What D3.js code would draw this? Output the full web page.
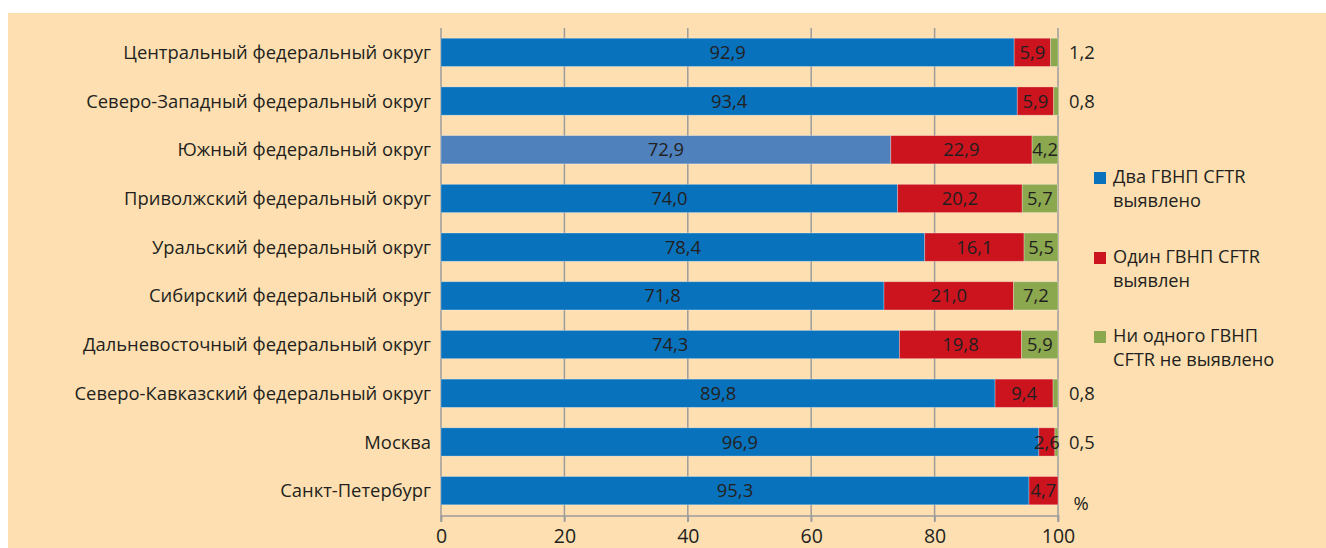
<!DOCTYPE html>
<html>
<head>
<meta charset="utf-8">
<script src="https://cdn.jsdelivr.net/npm/d3@7"></script>
<style>
  body { margin: 0; padding: 0; background: #fff; }
  svg { display: block; }
  text { font-family: "Open Sans", "Noto Sans", sans-serif; fill: #231F20; }
</style>
</head>
<body>
<svg id="chart" width="1326" height="548"></svg>
<script>
const categories = [
  "Центральный федеральный округ",
  "Северо-Западный федеральный округ",
  "Южный федеральный округ",
  "Приволжский федеральный округ",
  "Уральский федеральный округ",
  "Сибирский федеральный округ",
  "Дальневосточный федеральный округ",
  "Северо-Кавказский федеральный округ",
  "Москва",
  "Санкт-Петербург"
];
const twoFound  = [92.9, 93.4, 72.9, 74.0, 78.4, 71.8, 74.3, 89.8, 96.9, 95.3];
const oneFound  = [5.9, 5.9, 22.9, 20.2, 16.1, 21.0, 19.8, 9.4, 2.6, 4.7];
const noneFound = [1.2, 0.8, 4.2, 5.7, 5.5, 7.2, 5.9, 0.8, 0.5, 0.0];
const seriesNames = ["Два ГВНП CFTR выявлено", "Один ГВНП CFTR выявлен", "Ни одного ГВНП CFTR не выявлено"];
const legendLines = [["Два ГВНП CFTR", "выявлено"], ["Один ГВНП CFTR", "выявлен"], ["Ни одного ГВНП", "CFTR не выявлено"]];
const xTicks = [0, 20, 40, 60, 80, 100];
const unitLabel = "%";

const colors = ["#0872BC", "#CC141F", "#8CA84F"];
const highlightColor = "#4F81BD"; // Южный ФО bar is lighter
const gridColor = "#9C9C9C";
const fsCat = 18.4, fsVal = 18.4, fsTick = 19.5, fsLeg = 18.2;

const svg = d3.select("#chart");
svg.append("rect").attr("x", 8).attr("y", 13).attr("width", 1318).attr("height", 535).attr("fill", "#FDDFB1");

const x = d3.scaleLinear().domain([0, 100]).range([441, 1058]);
const y = d3.scaleBand().domain(categories).range([28, 515]).paddingInner(0.42).paddingOuter(0.21);

const keys = ["two", "one", "none"];
const rows = categories.map((c, i) => ({cat: c, two: twoFound[i], one: oneFound[i], none: noneFound[i]}));
const stacked = d3.stack().keys(keys)(rows);

// gridlines
svg.append("g").selectAll("line").data(xTicks.filter(t => t > 0)).join("line")
  .attr("x1", d => x(d)).attr("x2", d => x(d))
  .attr("y1", 28).attr("y2", 522)
  .attr("stroke", gridColor).attr("stroke-width", 1.5);
// left axis line
svg.append("line").attr("x1", x(0)).attr("x2", x(0)).attr("y1", 28).attr("y2", 522)
  .attr("stroke", gridColor).attr("stroke-width", 1.5);

// bottom axis
const axisG = svg.append("g").attr("transform", "translate(0,515.5)")
  .call(d3.axisBottom(x).tickValues(xTicks).tickSize(6).tickPadding(8).tickFormat(d3.format("d")));
axisG.select(".domain").attr("stroke", gridColor).attr("stroke-width", 1.5);
axisG.selectAll(".tick line").attr("stroke", gridColor).attr("stroke-width", 1.5);
axisG.selectAll(".tick text").attr("font-size", fsTick).attr("font-family", "'Open Sans', sans-serif").attr("fill", "#231F20");

// bars
stacked.forEach((layer, si) => {
  svg.append("g").selectAll("rect").data(layer).join("rect")
    .attr("x", d => x(d[0]))
    .attr("width", d => Math.max(0, x(d[1]) - x(d[0])))
    .attr("y", d => y(d.data.cat))
    .attr("height", y.bandwidth())
    .attr("fill", d => (si === 0 && d.data.cat === "Южный федеральный округ") ? highlightColor : colors[si])
    .attr("stroke", "rgba(255,255,255,0.35)").attr("stroke-width", 0.8);
});

// value labels
const fmt = v => v.toFixed(1).replace(".", ",");
stacked.forEach((layer, si) => {
  layer.forEach(d => {
    const v = d[1] - d[0];
    if (v <= 0) return;
    const cy = y(d.data.cat) + y.bandwidth() / 2;
    let tx, anchor = "middle";
    if (si === 2 && v < 2) { tx = x(100) + 11; anchor = "start"; }
    else tx = (x(d[0]) + x(d[1])) / 2;
    svg.append("text").attr("x", tx).attr("y", cy).attr("dy", "0.36em")
      .attr("text-anchor", anchor).attr("font-size", fsVal).text(fmt(v));
  });
});

// category labels
svg.append("g").selectAll("text").data(categories).join("text")
  .attr("x", 431).attr("y", d => y(d) + y.bandwidth() / 2).attr("dy", "0.36em")
  .attr("text-anchor", "end").attr("font-size", fsCat).text(d => d);

// unit label
svg.append("text").attr("x", 1081).attr("y", 503).attr("dy", "0.36em")
  .attr("text-anchor", "middle").attr("font-size", fsVal).text(unitLabel);

// legend
const legendY = [176, 256, 335];
legendLines.forEach((lines, i) => {
  svg.append("rect").attr("x", 1094).attr("y", legendY[i] - 4).attr("width", 12).attr("height", 12).attr("fill", colors[i]);
  lines.forEach((ln, j) => {
    svg.append("text").attr("x", 1113).attr("y", legendY[i] + j * 24).attr("dy", "0.36em")
      .attr("font-size", fsLeg).text(ln);
  });
});
</script>
</body>
</html>
